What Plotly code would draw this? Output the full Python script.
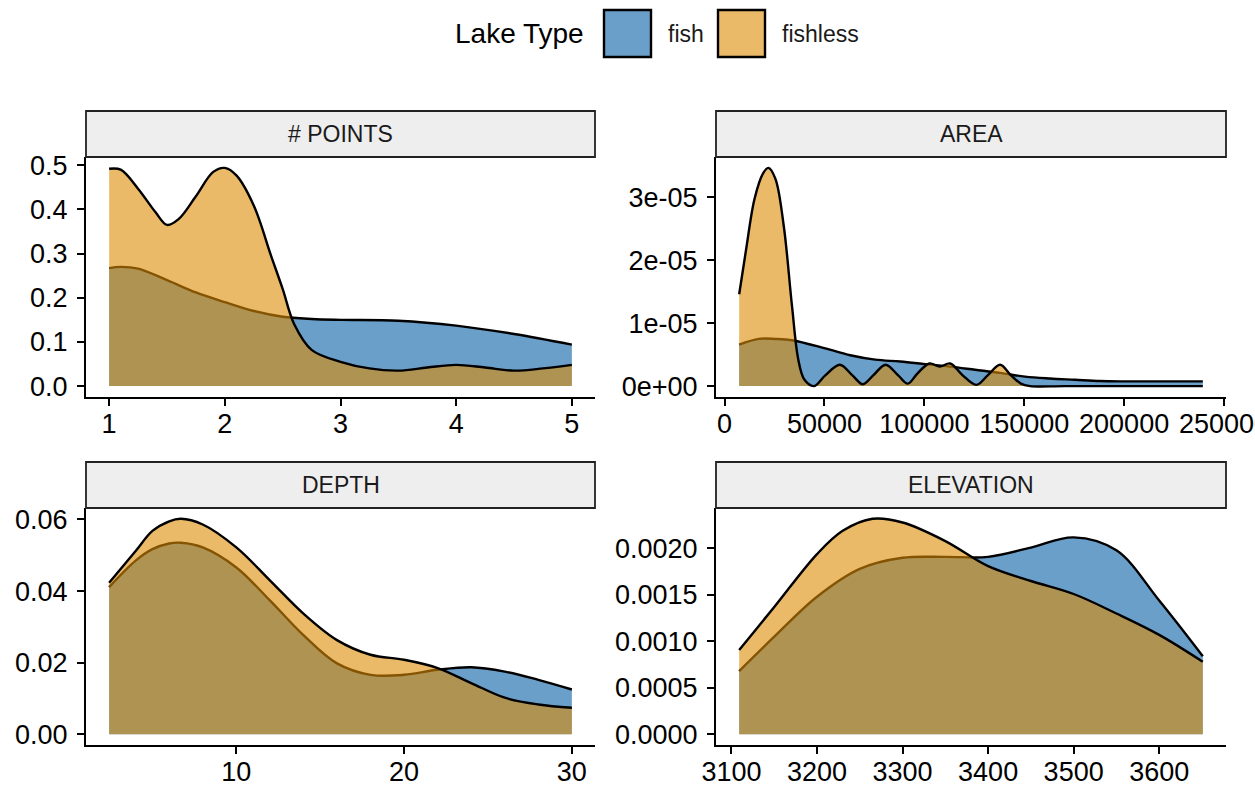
import plotly.graph_objects as go

# ---------------- data ----------------
panel_titles = ["# POINTS", "AREA", "DEPTH", "ELEVATION"]
group_names = ["fish", "fishless"]

points_fish_x = [1, 1.1, 1.25, 1.5, 1.75, 2.0, 2.25, 2.5, 2.75, 3.0, 3.5, 4.0, 4.5, 5.0]
points_fish_y = [0.267, 0.270, 0.266, 0.240, 0.212, 0.190, 0.170, 0.157, 0.152, 0.150, 0.148, 0.137, 0.118, 0.094]
points_fishless_x = [1, 1.1, 1.25, 1.4, 1.5, 1.6, 1.75, 1.9, 2.0, 2.1, 2.25, 2.4, 2.5, 2.6, 2.75,
                     3.0, 3.25, 3.5, 3.75, 4.0, 4.25, 4.5, 4.75, 5.0]
points_fishless_y = [0.492, 0.490, 0.447, 0.394, 0.365, 0.378, 0.430, 0.485, 0.494, 0.477, 0.409, 0.295,
                     0.220, 0.140, 0.082, 0.055, 0.040, 0.035, 0.042, 0.048, 0.042, 0.035, 0.040, 0.048]

area_fish_x = [7300, 17100, 25400, 33750, 50400, 62900, 75400, 87900, 100400, 112900, 125400,
               137900, 150400, 162900, 175400, 187900, 200400, 219200, 239400]
area_fish_y = [0.66e-5, 0.75e-5, 0.75e-5, 0.73e-5, 0.60e-5, 0.49e-5, 0.42e-5, 0.39e-5, 0.35e-5,
               0.31e-5, 0.26e-5, 0.21e-5, 0.15e-5, 0.12e-5, 0.10e-5, 0.08e-5, 0.075e-5, 0.075e-5, 0.075e-5]
area_fishless_x = [7300, 10800, 15000, 19200, 21900, 25400, 29600, 33750, 36900, 40000, 44800,
                   50400, 57700, 64000, 69200, 74400, 80600, 86900, 91700, 96500, 102500, 107700,
                   112900, 119200, 126000, 131700, 137900, 143100, 148300, 153000, 170000, 200000, 239400]
area_fishless_y = [1.46e-5, 2.18e-5, 2.98e-5, 3.38e-5, 3.47e-5, 3.30e-5, 2.55e-5, 1.27e-5, 0.42e-5,
                   0.10e-5, 0.0, 0.17e-5, 0.34e-5, 0.17e-5, 0.03e-5, 0.17e-5, 0.34e-5, 0.17e-5, 0.04e-5,
                   0.20e-5, 0.36e-5, 0.31e-5, 0.36e-5, 0.17e-5, 0.02e-5, 0.17e-5, 0.34e-5, 0.18e-5,
                   0.04e-5, 0.0, 0.0, 0.0, 0.0]

depth_x = [2.42, 4, 5, 6, 6.7, 8, 10, 12, 14, 16, 18, 20, 22, 24, 26, 28, 30]
depth_fish_y = [0.0411, 0.0485, 0.0517, 0.0533, 0.0535, 0.0522, 0.0466, 0.0374, 0.0277, 0.0198,
                0.0166, 0.0166, 0.0180, 0.0187, 0.0175, 0.0152, 0.0125]
depth_fishless_y = [0.0423, 0.0512, 0.0568, 0.0595, 0.0602, 0.0586, 0.0522, 0.0430, 0.0337, 0.0263,
                    0.0222, 0.0208, 0.0185, 0.0143, 0.0102, 0.0083, 0.0074]

elev_fish_x = [3109, 3150, 3200, 3250, 3300, 3350, 3400, 3450, 3500, 3550, 3600, 3651]
elev_fish_y = [0.00068, 0.00105, 0.00148, 0.00178, 0.00190, 0.00191, 0.00191, 0.00201, 0.00212,
               0.00198, 0.00144, 0.00084]
elev_fishless_x = [3109, 3150, 3200, 3230, 3265, 3300, 3350, 3400, 3450, 3500, 3550, 3600, 3651]
elev_fishless_y = [0.000907, 0.00137, 0.00194, 0.00219, 0.00232, 0.00228, 0.00208, 0.00181,
                   0.00165, 0.00151, 0.00130, 0.00107, 0.00078]

points_xticks = [1, 2, 3, 4, 5]
points_yticks = [0.0, 0.1, 0.2, 0.3, 0.4, 0.5]
area_xticks = [0, 50000, 100000, 150000, 200000, 250000]
area_yticks = [0, 1e-5, 2e-5, 3e-5]
area_ytick_labels = ["0e+00", "1e-05", "2e-05", "3e-05"]
depth_xticks = [10, 20, 30]
depth_yticks = [0.00, 0.02, 0.04, 0.06]
elev_xticks = [3100, 3200, 3300, 3400, 3500, 3600]
elev_yticks = [0.0000, 0.0005, 0.0010, 0.0015, 0.0020]

panels = [
    dict(fish=(points_fish_x, points_fish_y), fishless=(points_fishless_x, points_fishless_y),
         xt=points_xticks, yt=points_yticks, ytext=[f"{v:.1f}" for v in points_yticks]),
    dict(fish=(area_fish_x, area_fish_y), fishless=(area_fishless_x, area_fishless_y),
         xt=area_xticks, yt=area_yticks, ytext=area_ytick_labels),
    dict(fish=(depth_x, depth_fish_y), fishless=(depth_x, depth_fishless_y),
         xt=depth_xticks, yt=depth_yticks, ytext=[f"{v:.2f}" for v in depth_yticks]),
    dict(fish=(elev_fish_x, elev_fish_y), fishless=(elev_fishless_x, elev_fishless_y),
         xt=elev_xticks, yt=elev_yticks, ytext=[f"{v:.4f}" for v in elev_yticks]),
]

# ---------------- style / layout ----------------
W, H = 1255, 788
FONT = "Liberation Sans, Arial, Helvetica, sans-serif"
FILLS = {"fish": "rgba(7,95,167,0.6)", "fishless": "rgba(222,140,3,0.6)"}
# pixel boxes of each panel: (left, right, top, bottom)
BOXES = [(86, 595, 157, 397), (716, 1226, 157, 397), (86, 595, 508, 745), (716, 1226, 508, 745)]
STRIP_H = 46
TICK_SIZE = 27


def px(x):
    return x / W


def py(y):
    return 1 - y / H


fig = go.Figure()
shapes, annotations = [], []

for i, (p, box) in enumerate(zip(panels, BOXES)):
    n = "" if i == 0 else str(i + 1)
    xa, ya = "x" + n, "y" + n
    for g in group_names:
        xs, ys = p[g]
        fig.add_trace(go.Scatter(
            x=xs, y=ys, xaxis=xa, yaxis=ya, mode="lines",
            line=dict(color="black", width=2.4, shape="spline", smoothing=1.0),
            fill="tozeroy", fillcolor=FILLS[g], showlegend=False, name=g,
            hoverinfo="skip"))
    allx = list(p["fish"][0]) + list(p["fishless"][0])
    ally = list(p["fish"][1]) + list(p["fishless"][1])
    x0, x1 = min(allx), max(allx)
    ymax = max(ally)
    dx = (x1 - x0) * 0.05
    l, r, t, b = box
    fig.layout["xaxis" + n] = dict(
        domain=[px(l), px(r)], anchor=ya, range=[x0 - dx, x1 + dx],
        tickvals=p["xt"], ticktext=[str(v) for v in p["xt"]],
        showline=True, linecolor="black", linewidth=2, mirror=False,
        ticks="outside", ticklen=7, tickwidth=1.8, tickcolor="black",
        showgrid=False, zeroline=False, automargin=False, ticklabeloverflow="allow",
        ticklabelstandoff=-5,
        tickfont=dict(family=FONT, size=TICK_SIZE, color="black"))
    fig.layout["yaxis" + n] = dict(
        domain=[py(b), py(t)], anchor=xa, range=[-0.05 * ymax, 1.05 * ymax],
        tickvals=p["yt"], ticktext=p["ytext"],
        showline=True, linecolor="black", linewidth=2,
        ticks="outside", ticklen=7, tickwidth=1.8, tickcolor="black",
        showgrid=False, zeroline=False, ticklabelstandoff=4, automargin=False,
        ticklabeloverflow="allow",
        tickfont=dict(family=FONT, size=TICK_SIZE, color="black"))
    # facet strip
    shapes.append(dict(type="rect", xref="paper", yref="paper",
                       x0=px(l), x1=px(r), y0=py(t), y1=py(t - STRIP_H),
                       fillcolor="#EEEEEE", line=dict(color="#222222", width=1.8), layer="above"))
    annotations.append(dict(xref="paper", yref="paper", x=(px(l) + px(r)) / 2,
                            y=py(t - STRIP_H / 2), text=panel_titles[i], showarrow=False,
                            xanchor="center", yanchor="middle",
                            font=dict(family=FONT, size=23, color="#1a1a1a")))

# ---------------- legend (drawn manually, ggplot style) ----------------
annotations.append(dict(xref="paper", yref="paper", x=px(586), y=py(34), text="Lake Type",
                        showarrow=False, xanchor="right", yanchor="middle",
                        font=dict(family=FONT, size=28, color="black")))
key_left = [604, 718]
for g, kl in zip(group_names, key_left):
    shapes.append(dict(type="rect", xref="paper", yref="paper",
                       x0=px(kl), x1=px(kl + 47), y0=py(57), y1=py(10),
                       fillcolor=FILLS[g], line=dict(color="black", width=2.4)))
    annotations.append(dict(xref="paper", yref="paper", x=px(kl + 62), y=py(34), text=g,
                            showarrow=False, xanchor="left", yanchor="middle",
                            font=dict(family=FONT, size=23, color="#1a1a1a")))

fig.update_layout(
    width=W, height=H, margin=dict(l=0, r=0, t=0, b=0, autoexpand=False),
    paper_bgcolor="white", plot_bgcolor="white",
    shapes=shapes, annotations=annotations, showlegend=False,
    font=dict(family=FONT))

fig.write_html("out.html")
